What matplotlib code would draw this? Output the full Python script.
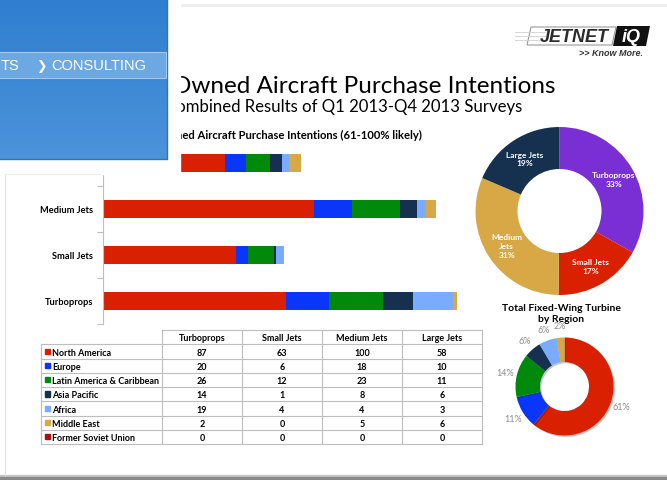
import matplotlib as mpl
mpl.use('Agg')
import matplotlib.pyplot as plt
import matplotlib.patheffects as pe
from matplotlib.patches import Rectangle, Polygon
import numpy as np

plt.rcParams['font.family'] = ['Lato', 'DejaVu Sans']

# data
categories = ['Turboprops', 'Small Jets', 'Medium Jets', 'Large Jets']
regions = ['North America', 'Europe', 'Latin America & Caribbean', 'Asia Pacific',
           'Africa', 'Middle East', 'Former Soviet Union']
north_america = [87, 63, 100, 58]
europe = [20, 6, 18, 10]
latin_america = [26, 12, 23, 11]
asia_pacific = [14, 1, 8, 6]
africa = [19, 4, 4, 3]
middle_east = [2, 0, 5, 6]
former_soviet = [0, 0, 0, 0]
region_values = [north_america, europe, latin_america, asia_pacific,
                 africa, middle_east, former_soviet]
region_colors = ['#D92000', '#0A36FA', '#00890A', '#15314F',
                 '#79ACFD', '#D9A846', '#A31313']

type_labels = ['Turboprops', 'Small Jets', 'Medium\nJets', 'Large Jets']
type_colors = ['#7A2FD5', '#D92000', '#D9A846', '#15314F']
region_pct_labels = ['61%', '11%', '14%', '6%', '6%', '2%', '']

W, H = 667, 481
fig = plt.figure(figsize=(W / 100, H / 100), dpi=100, facecolor='white')


def px_axes(x0, y0, x1, y1, z):
    # axes placed by pixel box (top-left origin)
    return fig.add_axes([x0 / W, 1 - y1 / H, (x1 - x0) / W, (y1 - y0) / H], zorder=z)


# ---- slide background, titles, logo
bg = px_axes(0, 0, W, H, 0)
bg.set_xlim(0, W)
bg.set_ylim(H, 0)
bg.axis('off')
bg.plot([180, W], [6, 6], color='#EDEDED', lw=2)

bg.text(556, 93, 'Owned Aircraft Purchase Intentions', ha='right', va='baseline',
        fontsize=17.5, color='black')
bg.text(522, 112, 'Combined Results of Q1 2013-Q4 2013 Surveys', ha='right',
        va='baseline', fontsize=12.1, color='black')
bg.text(422, 139, 'Total Fixed-Wing Turbine Owned Aircraft Purchase Intentions (61-100% likely)',
        ha='right', va='baseline', fontsize=8.1, fontweight='bold', color='black')
bg.text(561, 314, 'Total Fixed-Wing Turbine\nby Region', ha='center', va='center',
        fontsize=7.5, fontweight='bold', linespacing=1.25)

# logo
bg.add_patch(Polygon([[531, 28], [616, 28], [612, 46], [527, 46]], closed=True,
                     fill=False, edgecolor='#9A9A9A', lw=0.8))
for yy in [33, 37, 41]:
    bg.plot([515, 545], [yy, yy], color='#D0D0D0', lw=0.6)
bg.text(574, 38, 'JETNET', ha='center', va='center', fontsize=13, fontweight='bold',
        style='italic', color='#2B2B2B', family='Liberation Sans')
bg.add_patch(Polygon([[617, 27], [650, 27], [646, 47], [613, 47]], closed=True,
                     facecolor='#111111', edgecolor='none'))
bg.text(631, 37.5, 'iQ', ha='center', va='center', fontsize=13, fontweight='bold',
        style='italic', color='white', family='Liberation Sans')
bg.text(643, 53, '>> Know More.', ha='right', va='center', fontsize=6.5,
        style='italic', fontweight='bold', color='#333333', family='Liberation Sans')

# ---- stacked bars
bx = px_axes(103, 141, 472, 325, 2)
y = np.arange(len(categories))
left = np.zeros(len(categories))
for vals, col in zip(region_values, region_colors):
    bx.barh(y, vals, left=left, height=0.41, color=col, linewidth=0)
    left += np.array(vals)
bx.set_xlim(0, 175)
bx.set_ylim(-0.5, 3.5)
bx.set_yticks(np.arange(-0.5, 4, 1))
bx.set_yticklabels([])
bx.set_yticks(y, minor=True)
bx.set_yticklabels(categories, minor=True, fontweight='bold', fontsize=6.7)
bx.tick_params(axis='y', which='minor', length=0, pad=7)
bx.tick_params(axis='y', which='major', length=4, color='#BFBFBF', width=0.8)
bx.set_xticks([])
for s in ['top', 'right', 'bottom']:
    bx.spines[s].set_visible(False)
bx.spines['left'].set_color('#BFBFBF')
bx.patch.set_alpha(0)

# ---- data table
tx = px_axes(41, 331, 482, 445, 2)
tx.set_xlim(0, 441)
tx.set_ylim(8, 0)
tx.axis('off')
col_edges = [0, 121, 201, 281, 361, 441]
grid_c = '#BDBDBD'
tx.plot([col_edges[1], col_edges[-1]], [0, 0], color=grid_c, lw=0.8, clip_on=False)
for r in range(1, 9):
    tx.plot([0, col_edges[-1]], [r, r], color=grid_c, lw=0.8, clip_on=False)
tx.plot([0, 0], [1, 8], color=grid_c, lw=0.8, clip_on=False)
for xe in col_edges[1:]:
    tx.plot([xe, xe], [0, 8], color=grid_c, lw=0.8, clip_on=False)
for j, cat in enumerate(categories):
    xc = (col_edges[j + 1] + col_edges[j + 2]) / 2
    tx.text(xc, 0.55, cat, ha='center', va='center', fontsize=6.5, fontweight='bold')
for i, (reg, vals, col) in enumerate(zip(regions, region_values, region_colors)):
    r = i + 1
    tx.add_patch(Rectangle((4, r + 0.3), 5, 0.38, color=col))
    tx.text(11, r + 0.55, reg, ha='left', va='center', fontsize=6.5, fontweight='bold')
    for j, v in enumerate(vals):
        xc = (col_edges[j + 1] + col_edges[j + 2]) / 2
        tx.text(xc, r + 0.55, str(v), ha='center', va='center', fontsize=6.5,
                fontweight='bold')


# ---- donuts
def donut_axes(cx, cy, r, lim=1.04):
    h = r * lim
    ax = px_axes(cx - h, cy - h, cx + h, cy + h, 2)
    return ax


type_totals = np.sum(region_values, axis=0)
d1 = donut_axes(559.5, 212, 84)
wedges, _ = d1.pie(type_totals, colors=type_colors, startangle=90, counterclock=False,
                   wedgeprops=dict(width=0.5, linewidth=0))
d1.set_xlim(-1.04, 1.04)
d1.set_ylim(-1.04, 1.04)
for w, name, v in zip(wedges, type_labels, type_totals):
    ang = np.deg2rad((w.theta1 + w.theta2) / 2)
    d1.text(0.75 * np.cos(ang), 0.75 * np.sin(ang),
            f'{name}\n{v / type_totals.sum() * 100:.0f}%', ha='center', va='center',
            color='white', fontsize=6, fontweight='bold', linespacing=1.3)

region_totals = np.sum(region_values, axis=1)
d2 = donut_axes(564.5, 387.5, 49)
_, rtexts = d2.pie(region_totals, colors=region_colors, startangle=90, counterclock=False,
                   labels=region_pct_labels, labeldistance=1.24,
                   textprops=dict(color='#8C8C8C', fontsize=6.5),
                   wedgeprops=dict(width=0.5, linewidth=0,
                                   path_effects=[pe.SimplePatchShadow(offset=(1, -1), alpha=0.25),
                                                 pe.Normal()]))
for t in rtexts:
    t.set_ha('center')
    t.set_va('center')
d2.set_xlim(-1.04, 1.04)
d2.set_ylim(-1.04, 1.04)

# ---- overlapping windows on the left
ov = px_axes(0, 0, W, H, 10)
ov.add_patch(Rectangle((0, 0), 180, 175, color='white', zorder=1))
grad = np.linspace(0, 1, 100).reshape(-1, 1)
ov.imshow(grad, extent=(0, 167, 160, 0), aspect='auto', zorder=2,
          cmap=mpl.colors.LinearSegmentedColormap.from_list('blu', ['#2F7ED0', '#4C93DA']))
ov.plot([167, 167, 0], [0, 160, 160], color='#2F72BF', lw=1, zorder=3)
ov.add_patch(Rectangle((-2, 53), 168, 26, facecolor='#6CA8E2', edgecolor='#9DC7EE',
                       lw=0.8, zorder=3))
ov.text(0.5, 66.5, 'TS', ha='left', va='center', color='white', fontsize=10.5,
        family='Liberation Sans', zorder=4)
ov.text(36, 66.5, '\u276F', ha='left', va='center', color='white', fontsize=9,
        family='DejaVu Sans', zorder=4)
ov.text(51, 66.5, 'CONSULTING', ha='left', va='center', color='white', fontsize=10.5,
        family='Liberation Sans', zorder=4)
ov.plot([5, 5], [175, 476], color='#E4E4E4', lw=0.8)
ov.plot([5, 100], [175, 175], color='#EDEDED', lw=0.8)
ov.add_patch(Rectangle((0, 476), W, 2, color='#C8C8C8'))
ov.add_patch(Rectangle((0, 478), W, 3, color='#8A8A8A'))
ov.set_xlim(0, W)
ov.set_ylim(H, 0)
ov.axis('off')

fig.savefig('out.png', dpi=100, facecolor='white')
